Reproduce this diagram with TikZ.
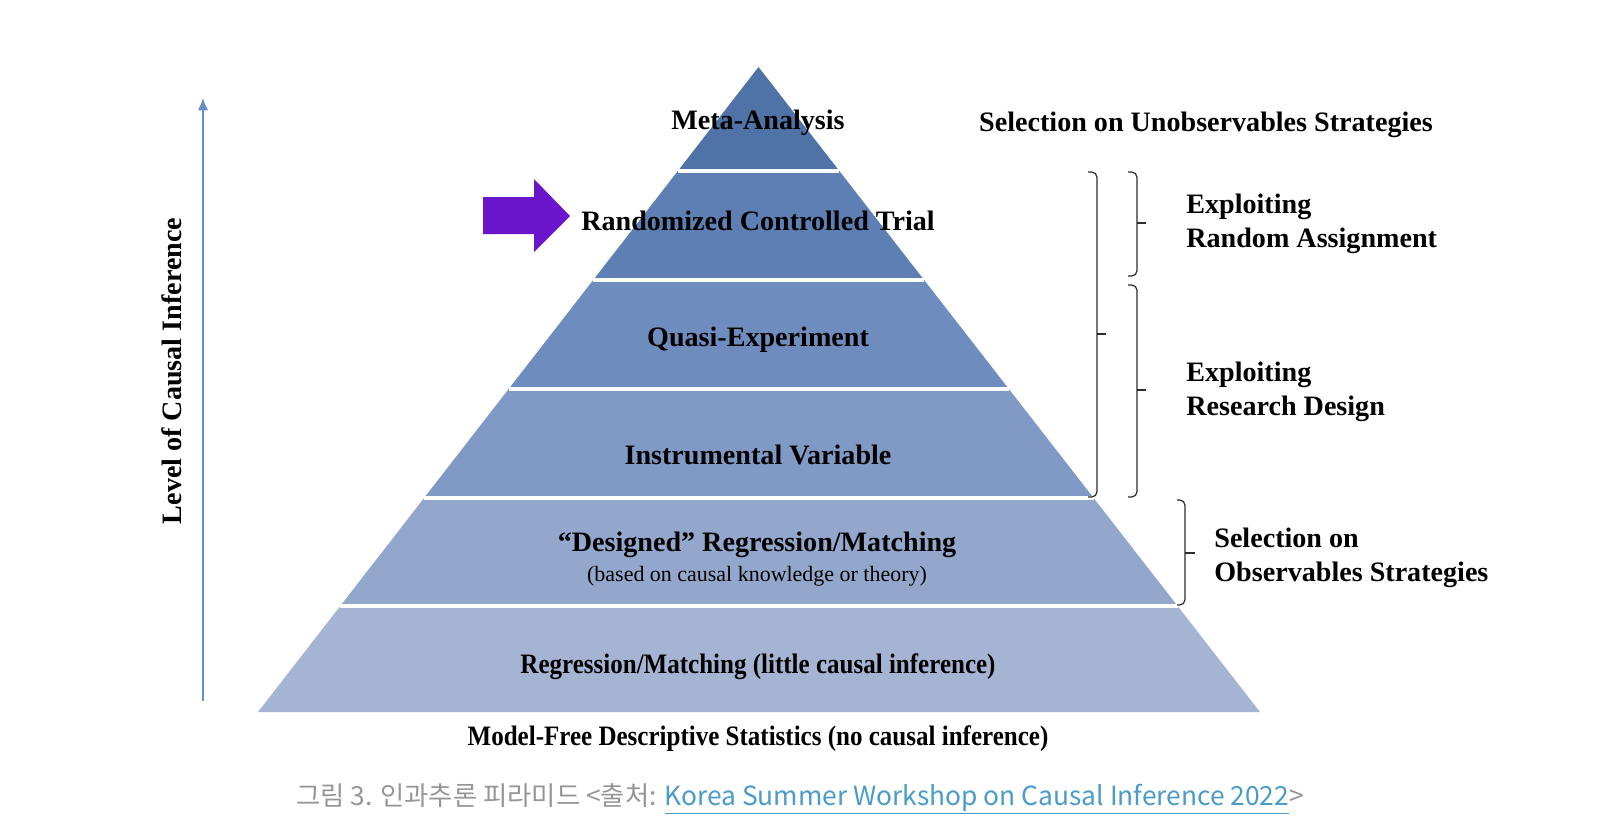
\documentclass[tikz,border=0pt]{standalone}
\usepackage{fontspec}
\usepackage{graphicx}
\setmainfont{Liberation Serif}
\newfontfamily\captionfont{Noto Sans CJK KR}
\usetikzlibrary{calc,arrows.meta}

\definecolor{LayerOne}{RGB}{79,114,167}
\definecolor{LayerTwo}{RGB}{93,127,180}
\definecolor{LayerThree}{RGB}{111,140,190}
\definecolor{LayerFour}{RGB}{128,153,197}
\definecolor{LayerFive}{RGB}{147,167,204}
\definecolor{LayerSix}{RGB}{166,180,212}
\definecolor{PointerColor}{RGB}{106,21,201}
\definecolor{LevelColor}{RGB}{104,142,200}
\definecolor{CaptionGray}{RGB}{150,150,150}
\definecolor{LinkBlue}{RGB}{74,155,200}

\tikzstyle{level-text}=[inner sep=0pt,
                        text centered,
                        font=\fontsize{16}{19}\selectfont\bfseries,
                       ]
\tikzstyle{side-text}=[level-text,
                       anchor=west,
                       align=left]
\tikzstyle{bracket}=[draw={rgb,255:red,45;green,45;blue,45},
                     line width=0.7pt,
                     rounded corners=3]

\begin{document}
\begin{tikzpicture}[x=0.02cm, y=-0.02cm]
\useasboundingbox (0,0) rectangle (1598,822);

\coordinate (apex)  at (758.5,67);
\coordinate (baseL) at (258,712);
\coordinate (baseR) at (1260,712);
\foreach \t [count=\i] in {0.1612,0.3302,0.4992,0.6682,0.8357} {
  \coordinate (l\i) at ($(apex)!\t!(baseL)$);
  \coordinate (r\i) at ($(apex)!\t!(baseR)$);
}

% pyramid
\fill[LayerOne]   (apex) -- (l1) -- (r1) -- cycle;
\fill[LayerTwo]   (l1) -- (l2) -- (r2) -- (r1) -- cycle;
\fill[LayerThree] (l2) -- (l3) -- (r3) -- (r2) -- cycle;
\fill[LayerFour]  (l3) -- (l4) -- (r4) -- (r3) -- cycle;
\fill[LayerFive]  (l4) -- (l5) -- (r5) -- (r4) -- cycle;
\fill[LayerSix]   (l5) -- (baseL) -- (baseR) -- (r5) -- cycle;
\foreach \i in {1,...,5}
  \draw[white, line width=2pt] (l\i) -- (r\i);

\node at (758,123) (meta)     [level-text] {Meta-Analysis};
\node at (758,221) (rct)      [level-text] {Randomized Controlled Trial};
\node at (758,340) (quasi)    [level-text] {Quasi-Experiment};
\node at (758,455) (iv)       [level-text] {Instrumental Variable};
\node at (757,545) (designed) [level-text] {“Designed” Regression/Matching};
\node at (757,576) (based)    [level-text, font=\fontsize{12.5}{15}\selectfont] {(based on causal knowledge or theory)};
\node at (758,667) (regr)     [level-text] {\scalebox{0.89}[1]{Regression/Matching (little causal inference)}};
\node at (758,739) (modelfree)[level-text] {\scalebox{0.89}[1]{Model-Free Descriptive Statistics (no causal inference)}};

% pointer to RCT
\fill[PointerColor] (483,197) -- (534,197) -- (534,179) -- (570,216)
                    -- (534,252) -- (534,234) -- (483,234) -- cycle;

% level axis
\coordinate (levelbottom) at (203,701);
\coordinate (leveltop)    at (203,98);
\draw[LevelColor, line width=1.1pt, -{Latex[length=7pt,width=6pt]}] (levelbottom) -- (leveltop);
\node at (172,371) (levellabel) [level-text, rotate=90] {Level of Causal Inference};

% right side
\node at (1206,125) (unobs)    [level-text] {Selection on Unobservables Strategies};
\node at (1186,224) (random)   [side-text] {Exploiting\\Random Assignment};
\node at (1186,392) (design)   [side-text] {Exploiting\\Research Design};
\node at (1214,558) (observ)   [side-text] {Selection on\\Observables Strategies};

\draw[bracket] (1088,172) -| (1097,497) -- (1088,497);
\draw[bracket] (1097,334) -- (1106,334);
\draw[bracket] (1128,172) -| (1137,276) -- (1128,276);
\draw[bracket] (1137,223) -- (1146,223);
\draw[bracket] (1128,285) -| (1137,497) -- (1128,497);
\draw[bracket] (1137,390) -- (1146,390);
\draw[bracket] (1177,500) -| (1185,605) -- (1177,605);
\draw[bracket] (1185,553) -- (1195,553);

% caption
\node at (800,799) (caption) [inner sep=0pt, font=\captionfont\fontsize{15}{18}\selectfont, text=CaptionGray]
  {그림 3. 인과추론 피라미드 <출처: \textcolor{LinkBlue}{\underline{Korea Summer Workshop on Causal Inference 2022}}>};
\end{tikzpicture}
\end{document}
